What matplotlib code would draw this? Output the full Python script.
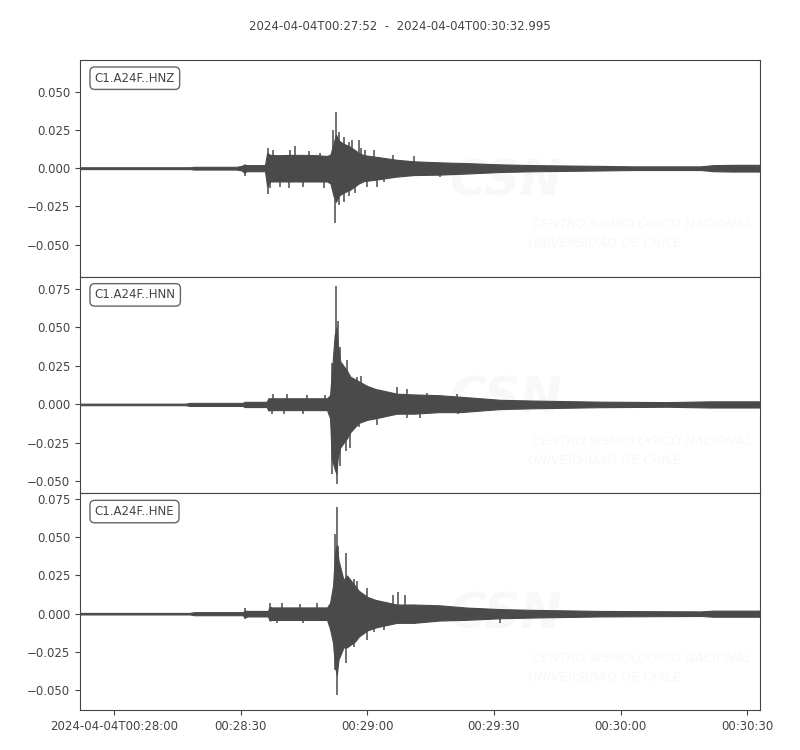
import matplotlib
matplotlib.use('Agg')
import matplotlib.pyplot as plt
from matplotlib.ticker import MultipleLocator, FuncFormatter
from datetime import datetime, timedelta

# Trace info
start_time = datetime(2024, 4, 4, 0, 27, 52)
duration = 160.995
channels = ['C1.A24F..HNZ', 'C1.A24F..HNN', 'C1.A24F..HNE']
y_limits = [(-0.0710, 0.0708), (-0.0577, 0.0829), (-0.0630, 0.0787)]

# Envelope (seconds after start, upper, lower)
hnz_t = [0, 26, 27, 37, 38.3, 38.9, 39.4, 43.8, 44.3, 45, 47, 50, 53, 56, 58.5, 59.3, 60.0, 60.6,
         61.3, 62.4, 64, 66, 67.2, 70, 75, 79, 85.3, 91.6, 99.5, 107.4, 123.2, 131, 146.9, 150, 154.7, 161]
hnz_up = [0.0006, 0.0006, 0.0009, 0.0009, 0.0015, 0.0025, 0.002, 0.002, 0.010, 0.0087, 0.0085, 0.0087,
          0.0087, 0.0085, 0.008, 0.009, 0.016, 0.022, 0.018, 0.016, 0.014, 0.010, 0.0085, 0.0075, 0.0055,
          0.0045, 0.0038, 0.0033, 0.0025, 0.002, 0.0015, 0.0012, 0.0012, 0.002, 0.0022, 0.0022]
hnz_lo = [-0.0006, -0.0006, -0.0009, -0.0009, -0.0015, -0.003, -0.002, -0.002, -0.012, -0.0087, -0.0087,
          -0.0087, -0.0087, -0.0087, -0.0087, -0.010, -0.018, -0.022, -0.018, -0.016, -0.014, -0.010,
          -0.0085, -0.0075, -0.0055, -0.0045, -0.0042, -0.0035, -0.0025, -0.002, -0.0015, -0.0012,
          -0.0012, -0.002, -0.0022, -0.0022]
hnz_spike_t = [44.6, 45.8, 49.8, 50.9, 54.1, 56.9, 60.0, 60.7, 61.3, 62.4, 63.6, 64.4, 66.0, 66.5, 67.5,
               69.5, 74.2, 79.0,
               39.1, 44.6, 45.0, 47.4, 49.4, 52.9, 57.7, 60.3, 61.4, 62.4, 63.6, 65.2, 67.9, 70.3, 71.9, 85.3]
hnz_spike_v = [0.0135, 0.012, 0.012, 0.0142, 0.011, 0.010, 0.025, 0.0366, 0.024, 0.0207, 0.0174, 0.0185,
               0.0185, 0.013, 0.012, 0.012, 0.0087, 0.008,
               -0.0054, -0.017, -0.013, -0.012, -0.013, -0.012, -0.013, -0.036, -0.024, -0.022, -0.0185,
               -0.0163, -0.012, -0.012, -0.0092, -0.0059]

hnn_t = [0, 25, 26, 38.5, 39, 44.2, 44.6, 45, 58.5, 59.2, 59.6, 60.3, 60.7, 61.0, 61.6, 63.2, 64, 66,
         68, 70, 75, 79, 85, 90, 94.8, 99.5, 107.4, 123, 139, 149, 161]
hnn_up = [0.0005, 0.0005, 0.001, 0.001, 0.0017, 0.0017, 0.004, 0.004, 0.004, 0.006, 0.02, 0.045, 0.05,
          0.04, 0.028, 0.022, 0.018, 0.015, 0.012, 0.010, 0.007, 0.0065, 0.006, 0.005, 0.004, 0.003,
          0.0025, 0.0018, 0.0015, 0.002, 0.002]
hnn_lo = [-0.0005, -0.0005, -0.001, -0.001, -0.0017, -0.0017, -0.004, -0.0037, -0.0037, -0.009, -0.035,
          -0.042, -0.045, -0.035, -0.028, -0.022, -0.018, -0.012, -0.010, -0.009, -0.006, -0.006, -0.005,
          -0.005, -0.004, -0.003, -0.0025, -0.0018, -0.0015, -0.002, -0.002]
hnn_spike_t = [45.8, 49.0, 53.7, 58.0, 59.6, 60.7, 61.0, 61.6, 63.2, 65.6, 66.5, 68.3, 75.0, 77.4, 82.1,
               89.3,
               45.4, 48.2, 52.9, 59.7, 60.8, 61.6, 63.0, 64.0, 66.0, 70.3, 77.4, 80.6, 89.6]
hnn_spike_v = [0.007, 0.0065, 0.006, 0.0063, 0.027, 0.077, 0.054, 0.0375, 0.029, 0.018, 0.0185, 0.0115,
               0.011, 0.0098, 0.0076, 0.0065,
               -0.0063, -0.0063, -0.006, -0.045, -0.0514, -0.040, -0.030, -0.028, -0.0145, -0.0135,
               -0.009, -0.0085, -0.0065]

hne_t = [0, 26, 27, 38.5, 39.1, 39.6, 44.5, 44.9, 45.5, 58.5, 59.2, 59.9, 60.4, 60.8, 61.2, 62.4, 63.2,
         65.2, 66, 68, 70, 75, 79, 85, 91.6, 99.5, 107.4, 123, 147, 150, 161]
hne_up = [0.0005, 0.0005, 0.001, 0.001, 0.002, 0.0018, 0.0018, 0.0045, 0.0041, 0.0041, 0.007, 0.018,
          0.04, 0.045, 0.035, 0.022, 0.025, 0.018, 0.015, 0.011, 0.009, 0.006, 0.006, 0.0055, 0.004,
          0.003, 0.0025, 0.0018, 0.0015, 0.002, 0.002]
hne_lo = [-0.0005, -0.0005, -0.001, -0.001, -0.0025, -0.0018, -0.0018, -0.0045, -0.0041, -0.0041, -0.01,
          -0.019, -0.035, -0.04, -0.03, -0.022, -0.022, -0.018, -0.015, -0.011, -0.009, -0.006, -0.006,
          -0.0045, -0.004, -0.003, -0.0025, -0.0018, -0.0015, -0.002, -0.002]
hne_spike_t = [39.1, 45.0, 47.8, 52.1, 56.1, 60.4, 60.8, 61.2, 63.0, 64.8, 65.6, 67.9, 74.2, 75.4, 77.0,
               39.1, 46.6, 52.9, 60.4, 60.8, 61.6, 63.0, 64.8, 67.9, 69.5, 71.9, 99.5]
hne_spike_v = [0.0035, 0.0067, 0.0067, 0.0065, 0.0067, 0.052, 0.0698, 0.044, 0.040, 0.023, 0.0215, 0.017,
               0.0124, 0.014, 0.0124,
               -0.0035, -0.0063, -0.0063, -0.037, -0.0534, -0.028, -0.032, -0.0215, -0.0172, -0.012,
               -0.0104, -0.006]

traces = [
    (hnz_t, hnz_up, hnz_lo, hnz_spike_t, hnz_spike_v),
    (hnn_t, hnn_up, hnn_lo, hnn_spike_t, hnn_spike_v),
    (hne_t, hne_up, hne_lo, hne_spike_t, hne_spike_v),
]

tick_seconds = [8, 38, 68, 98, 128, 158]

wave_color = '#4a4a4a'
text_color = '#444444'
mark_color = '#f8f8f8'


def tick_label(x, pos):
    t = start_time + timedelta(seconds=float(x))
    if pos == 0:
        return t.strftime('%Y-%m-%dT%H:%M:%S')
    return t.strftime('%H:%M:%S')


plt.rcParams['font.family'] = 'DejaVu Sans'
plt.rcParams['font.size'] = 8.5
plt.rcParams['text.color'] = text_color
plt.rcParams['xtick.color'] = text_color
plt.rcParams['ytick.color'] = text_color

fig, axes = plt.subplots(3, 1, figsize=(8, 7.5), dpi=100, sharex=True)
fig.subplots_adjust(left=0.1, right=0.95, top=0.92, bottom=0.0533, hspace=0)

for i, ax in enumerate(axes):
    t, up, lo, sp_t, sp_v = traces[i]
    ax.fill_between(t, lo, up, color=wave_color, linewidth=0.8, edgecolor=wave_color, zorder=3)
    ax.vlines(sp_t, 0, sp_v, color=wave_color, linewidth=1.1, zorder=3)

    # faint logo watermark
    ax.text(0.626, 0.44, 'CSN', transform=ax.transAxes, fontsize=36, fontweight='bold',
            fontstyle='italic', color=mark_color, ha='center', va='center', zorder=1)
    ax.text(0.665, 0.24, 'CENTRO SISMOLÓGICO NACIONAL', transform=ax.transAxes, fontsize=9.3,
            fontstyle='italic', color=mark_color, ha='left', va='center', zorder=1)
    ax.text(0.659, 0.152, 'UNIVERSIDAD DE CHILE', transform=ax.transAxes, fontsize=9.3,
            fontstyle='italic', color=mark_color, ha='left', va='center', zorder=1)

    ax.text(0.0216, 0.946, channels[i], transform=ax.transAxes, fontsize=8.5, va='top', ha='left',
            bbox=dict(boxstyle='round,pad=0.4', facecolor='white', edgecolor='#666666'), zorder=5)

    ax.set_ylim(*y_limits[i])
    ax.yaxis.set_major_locator(MultipleLocator(0.025))
    for spine in ax.spines.values():
        spine.set_color('#444444')
    if i < 2:
        ax.tick_params(axis='x', bottom=False, labelbottom=False)

axes[-1].set_xlim(0, duration)
axes[-1].set_xticks(tick_seconds)
axes[-1].xaxis.set_major_formatter(FuncFormatter(tick_label))

fig.suptitle(f"{start_time.strftime('%Y-%m-%dT%H:%M:%S')}  -  2024-04-04T00:30:32.995",
             fontsize=8.5, y=0.9733, color=text_color)

fig.savefig('out.png', dpi=100)
